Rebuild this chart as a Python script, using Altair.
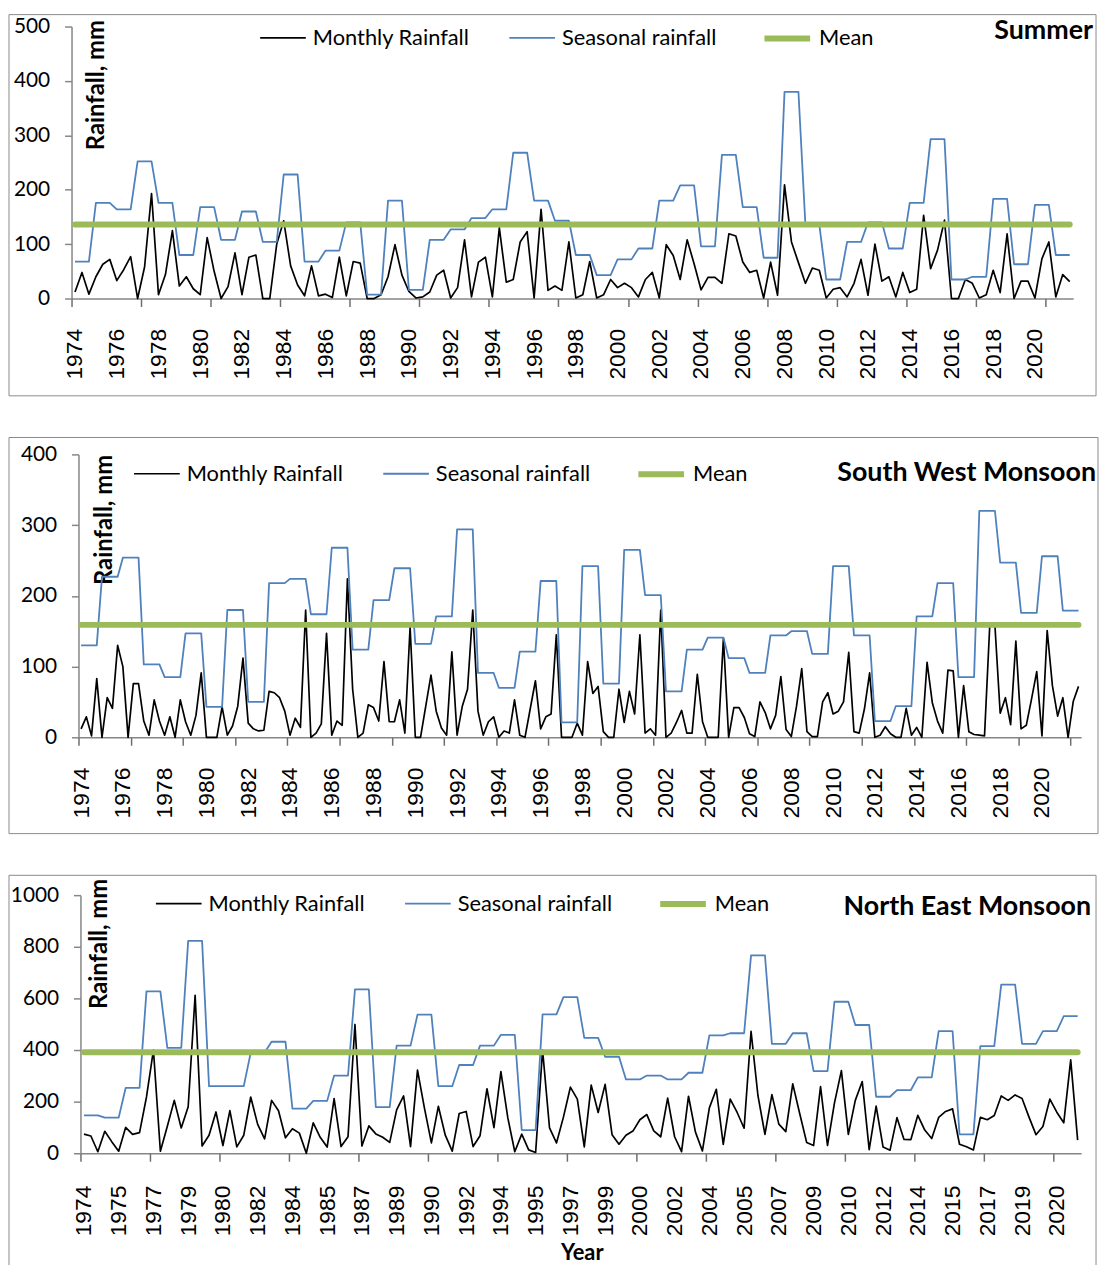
import altair as alt
import pandas as pd

SERIES = ["Monthly Rainfall", "Seasonal rainfall", "Mean"]
SERIES_COLORS = ["#000000", "#4F81BD", "#9BBB59"]
SERIES_WIDTHS = [1.7, 1.8, 6.0]

# ---------------- Summer (3 months / year) ----------------
SUMMER_MONTHLY = [
    12, 48, 8,      # 1974
    40, 63, 72,     # 1975
    33, 53, 77,     # 1976
    0, 58, 193,     # 1977
    7, 44, 125,     # 1978
    23, 40, 18,     # 1979
    7, 112, 50,     # 1980
    0, 22, 84,      # 1981
    7, 76, 80,      # 1982
    0, 0, 100,      # 1983
    143, 60, 25,    # 1984
    5, 60, 5,       # 1985
    8, 2, 76,       # 1986
    5, 68, 65,      # 1987
    0, 0, 7,        # 1988
    40, 99, 43,     # 1989
    13, 1, 3,       # 1990
    12, 43, 52,     # 1991
    1, 20, 108,     # 1992
    3, 67, 76,      # 1993
    3, 130, 30,     # 1994
    35, 104, 123,   # 1995
    1, 164, 15,     # 1996
    23, 15, 104,    # 1997
    1, 7, 68,       # 1998
    1, 7, 35,       # 1999
    20, 28, 20,     # 2000
    3, 35, 48,      # 2001
    1, 99, 79,      # 2002
    35, 108, 64,    # 2003
    16, 39, 39,     # 2004
    28, 119, 115,   # 2005
    67, 48, 52,     # 2006
    1, 67, 6,       # 2007
    209, 104, 66,   # 2008
    28, 56, 52,     # 2009
    1, 17, 20,      # 2010
    3, 28, 72,      # 2011
    6, 100, 32,     # 2012
    40, 3, 48,      # 2013
    11, 17, 153,    # 2014
    55, 89, 144,    # 2015
    0, 0, 35,       # 2016
    28, 1, 7,       # 2017
    52, 11, 119,    # 2018
    0, 32, 32,      # 2019
    1, 73, 104,     # 2020
    3, 44, 31,      # 2021
]
SUMMER_SEASONAL = [
    68, 176, 164, 252, 176, 80, 168, 108, 160, 104,
    228, 68, 88, 140, 7, 180, 16, 108, 127, 148,
    164, 268, 180, 143, 80, 43, 72, 92, 180, 208,
    96, 264, 168, 75, 380, 136, 35, 104, 140, 92,
    176, 293, 35, 40, 183, 63, 172, 80,
]
SUMMER_MEAN = 136
SUMMER_LABELS = [1974, 1976, 1978, 1980, 1982, 1984, 1986, 1988, 1990, 1992, 1994, 1996,
                 1998, 2000, 2002, 2004, 2006, 2008, 2010, 2012, 2014, 2016, 2018, 2020]

# ---------------- South West Monsoon (4 months / year) ----------------
SWM_MONTHLY = [
    12, 29, 2, 83,      # 1974
    0, 56, 41, 130,     # 1975
    100, 0, 76, 76,     # 1976
    23, 3, 53, 23,      # 1977
    3, 29, 0, 53,       # 1978
    22, 3, 31, 91,      # 1979
    0, 0, 0, 43,        # 1980
    3, 16, 44, 112,     # 1981
    20, 12, 9, 10,      # 1982
    65, 63, 56, 37,     # 1983
    3, 27, 14, 180,     # 1984
    0, 6, 19, 147,      # 1985
    3, 23, 17, 224,     # 1986
    68, 0, 6, 46,       # 1987
    42, 23, 107, 22,    # 1988
    22, 53, 6, 156,     # 1989
    0, 0, 44, 88,       # 1990
    37, 13, 3, 121,     # 1991
    3, 44, 68, 180,     # 1992
    37, 3, 22, 29,      # 1993
    0, 9, 6, 53,        # 1994
    3, 0, 40, 80,       # 1995
    12, 29, 33, 145,    # 1996
    0, 0, 0, 20,        # 1997
    3, 107, 62, 72,     # 1998
    8, 0, 0, 68,        # 1999
    21, 65, 33, 145,    # 2000
    6, 12, 3, 180,      # 2001
    0, 6, 21, 38,       # 2002
    6, 6, 89, 22,       # 2003
    0, 0, 0, 140,       # 2004
    0, 42, 42, 28,      # 2005
    5, 1, 50, 35,       # 2006
    12, 31, 86, 11,     # 2007
    1, 44, 97, 8,       # 2008
    1, 1, 50, 63,       # 2009
    33, 37, 50, 120,    # 2010
    8, 6, 40, 91,       # 2011
    0, 3, 15, 5,        # 2012
    0, 0, 41, 3,        # 2013
    14, 0, 106, 49,     # 2014
    23, 6, 95, 94,      # 2015
    0, 73, 8, 4,        # 2016
    3, 2, 158, 157,     # 2017
    34, 56, 18, 136,    # 2018
    12, 17, 54, 93,     # 2019
    2, 151, 73, 30,     # 2020
    56, 0, 51, 72,      # 2021
]
SWM_SEASONAL = [
    130, 227, 254, 103, 85, 147, 43, 180, 50, 218,
    224, 174, 268, 124, 194, 239, 132, 171, 294, 91,
    70, 121, 221, 21, 242, 76, 265, 201, 65, 124,
    141, 112, 91, 144, 150, 118, 242, 144, 23, 44,
    171, 218, 85, 320, 247, 176, 256, 179,
]
SWM_MEAN = 159
SWM_LABELS = [1974, 1976, 1978, 1980, 1982, 1984, 1986, 1988, 1990, 1992, 1994, 1996,
              1998, 2000, 2002, 2004, 2006, 2008, 2010, 2012, 2014, 2016, 2018, 2020]

# ---------------- North East Monsoon (3 months / year) ----------------
NEM_MONTHLY = [
    74, 67, 6,       # 1974
    85, 45, 8,       # 1975
    100, 73, 80,     # 1976
    218, 400, 8,     # 1977
    105, 205, 98,    # 1978
    180, 612, 28,    # 1979
    70, 160, 30,     # 1980
    165, 25, 70,     # 1981
    218, 112, 56,    # 1982
    205, 165, 60,    # 1983
    95, 78, 0,       # 1984
    118, 62, 24,     # 1985
    212, 26, 64,     # 1986
    499, 28, 106,    # 1987
    75, 62, 42,      # 1988
    168, 222, 26,    # 1989
    322, 175, 40,    # 1990
    182, 70, 8,      # 1991
    154, 162, 26,    # 1992
    68, 250, 99,     # 1993
    316, 137, 6,     # 1994
    74, 13, 3,       # 1995
    400, 98, 40,     # 1996
    140, 256, 210,   # 1997
    25, 264, 158,    # 1998
    267, 72, 35,     # 1999
    70, 86, 130,     # 2000
    150, 87, 64,     # 2001
    214, 64, 6,      # 2002
    221, 82, 9,      # 2003
    176, 248, 34,    # 2004
    210, 158, 97,    # 2005
    472, 222, 73,    # 2006
    227, 113, 84,    # 2007
    269, 154, 42,    # 2008
    30, 258, 30,     # 2009
    194, 320, 73,    # 2010
    205, 278, 14,    # 2011
    183, 24, 12,     # 2012
    138, 54, 53,     # 2013
    147, 90, 57,     # 2014
    139, 162, 172,   # 2015
    35, 25, 13,      # 2016
    139, 130, 146,   # 2017
    222, 205, 226,   # 2018
    212, 140, 72,    # 2019
    104, 210, 159,   # 2020
    118, 362, 51,    # 2021
]
NEM_SEASONAL = [
    147, 138, 253, 627, 408, 823, 260, 260, 390, 432,
    173, 203, 301, 635, 179, 417, 537, 260, 342, 417,
    459, 90, 538, 605, 447, 374, 286, 301, 286, 312,
    457, 465, 767, 424, 465, 318, 587, 497, 219, 245,
    294, 473, 73, 415, 653, 424, 473, 531,
]
NEM_MEAN = 391
NEM_LABELS = [1974, 1975, 1977, 1979, 1980, 1982, 1984, 1985, 1987, 1989, 1990, 1992,
              1994, 1995, 1997, 1999, 2000, 2002, 2004, 2005, 2007, 2009, 2010, 2012,
              2014, 2015, 2017, 2019, 2020]

AXIS_GREY = "#868686"
PANEL_WIDTH = 1017


def panel(monthly, seasonal, mean, per_year, labels, label_every, ymax, ystep,
          height, x_range, y_offset, title, title_xy, legend_xy, ytitle_xy,
          frame, x_label_pad, x_title=None):
    n = len(monthly)
    idx = list(range(n))
    monthly_df = pd.DataFrame({"i": idx, "v": monthly, "series": SERIES[0]})
    seasonal_df = pd.DataFrame({"i": idx,
                                "v": [seasonal[k // per_year] for k in idx],
                                "series": SERIES[1]})
    mean_df = pd.DataFrame({"i": [0, n - 1], "v": [mean, mean], "series": SERIES[2]})

    xscale = alt.Scale(domain=[-0.5, n - 0.5], range=x_range, nice=False, zero=False)

    label_axis = dict(
        orient="bottom",
        values=[label_every * k for k in range(len(labels))],
        labelExpr=f"{labels}[round(datum.value / {label_every})]",
        labelAngle=270, labelFont="Liberation Sans", labelFontSize=23,
        labelColor="#000000", labelPadding=x_label_pad, labelOverlap=False,
        labelFlush=False, ticks=False, tickSize=0, domain=True,
        domainColor=AXIS_GREY, domainWidth=1.5, grid=False,
    )
    if x_title:
        label_axis.update(title=x_title, titleFont="Lato", titleFontSize=22,
                          titleFontWeight="bold", titleColor="#000000",
                          titleX=514, titleY=90, titleBaseline="top",
                          titleAlign="center")
    else:
        label_axis.update(title=None)

    x_label = alt.X("i:Q", scale=xscale, axis=alt.Axis(**label_axis))
    x_plain = alt.X("i:Q", scale=xscale, axis=None)
    tick_vals = [-0.5 + 10 * k for k in range(n // 10 + 1) if -0.5 + 10 * k < n - 0.5]
    x_ticks = alt.X("i:Q", scale=xscale, axis=alt.Axis(
        orient="bottom", values=tick_vals, labels=False, ticks=True, tickSize=8,
        tickColor="#6e6e6e", tickWidth=1.5, domain=False, grid=False, title=None))

    y = alt.Y("v:Q", scale=alt.Scale(domain=[0, ymax], nice=False, zero=True),
              axis=alt.Axis(values=list(range(0, ymax + 1, ystep)), offset=y_offset,
                            format="d",
                            tickSize=7, tickColor=AXIS_GREY, tickWidth=1.5,
                            domainColor=AXIS_GREY, domainWidth=1.5,
                            labelFont="Lato", labelFontSize=21, labelColor="#000000",
                            labelPadding=15, grid=False,
                            title="Rainfall, mm", titleFont="Lato", titleFontSize=24,
                            titleFontWeight="bold", titleColor="#000000",
                            titleAngle=270, titleAlign="right",
                            titleBaseline="alphabetic",
                            titleX=ytitle_xy[0], titleY=ytitle_xy[1]))

    legend = alt.Legend(orient="none", legendX=legend_xy[0], legendY=legend_xy[1],
                        direction="horizontal", title=None, symbolType="stroke",
                        symbolSize=2116, labelFont="Lato", labelFontSize=22,
                        labelColor="#000000", labelOffset=6, columnPadding=36,
                        padding=0, labelLimit=400)
    color = alt.Color("series:N", scale=alt.Scale(domain=SERIES, range=SERIES_COLORS),
                      legend=legend)
    width = alt.StrokeWidth("series:N",
                            scale=alt.Scale(type="ordinal", domain=SERIES,
                                            range=SERIES_WIDTHS),
                            legend=legend)

    one = pd.DataFrame({"k": [0]})
    frame_layer = alt.Chart(one).mark_rect(fillOpacity=0, stroke="#8a8a8a",
                                           strokeWidth=1).encode(
        x=alt.value(frame[0]), y=alt.value(frame[1]),
        x2=alt.value(frame[2]), y2=alt.value(frame[3]))

    monthly_layer = alt.Chart(monthly_df).mark_line(strokeJoin="round").encode(
        x=x_label, y=y, color=color, strokeWidth=width)
    seasonal_layer = alt.Chart(seasonal_df).mark_line(strokeJoin="round").encode(
        x=x_plain, y=y, color=color, strokeWidth=width)
    mean_layer = alt.Chart(mean_df).mark_line(strokeCap="round").encode(
        x=x_ticks, y=y, color=color, strokeWidth=width)

    title_layer = alt.Chart(one).mark_text(
        text=title, align="right", baseline="alphabetic", font="Lato",
        fontSize=27, fontWeight="bold", color="#000000").encode(
        x=alt.value(title_xy[0]), y=alt.value(title_xy[1]))

    return alt.layer(frame_layer, monthly_layer, seasonal_layer, mean_layer,
                     title_layer).resolve_axis(x="independent").properties(
        width=PANEL_WIDTH, height=height)


summer = panel(SUMMER_MONTHLY, SUMMER_SEASONAL, SUMMER_MEAN, 3, SUMMER_LABELS, 6,
               500, 100, 274, [0, 1009], 0, "Summer", (1029, 13), (189, -14),
               (32, -7), (-63, -12, 1032, 372), 30)

swm = panel(SWM_MONTHLY, SWM_SEASONAL, SWM_MEAN, 4, SWM_LABELS, 8,
            400, 100, 285, [7, 1017], -7, "South West Monsoon", (1032, 27),
            (62, -6), (33, 0), (-63, -17, 1034, 382), 30)

nem = panel(NEM_MONTHLY, NEM_SEASONAL, NEM_MEAN, 3, NEM_LABELS, 5,
            1000, 200, 260, [9, 1017], -9, "North East Monsoon", (1027, 20),
            (84, -17), (26, -17), (-63, -20, 1032, 382), 32, x_title="Year")

chart = alt.vconcat(summer, swm, nem, spacing=40).resolve_scale(
    x="independent", y="independent", color="independent", strokeWidth="independent"
).resolve_legend(color="independent", strokeWidth="independent").properties(
    padding={"left": 0, "top": 0, "right": 0, "bottom": 0}, background="white"
).configure(font="Lato").configure_view(strokeWidth=0)

chart.save("out.html", embed_options={"renderer": "svg", "actions": False})
